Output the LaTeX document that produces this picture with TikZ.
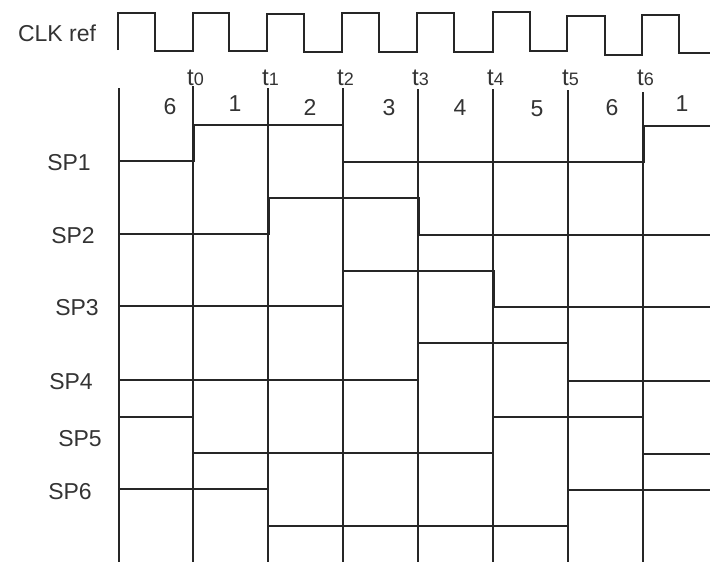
\documentclass[tikz,border=0pt]{standalone}
\usepackage{fontspec}
\setmainfont{Liberation Sans}
\begin{document}
\begin{tikzpicture}[x=1pt,y=-1pt,
  wave/.style={draw=black!85, line width=1.1pt, line join=miter},
  gridline/.style={draw=black!85, line width=1.1pt},
  lbl/.style={text=black!80, font=\fontsize{23}{23}\selectfont, inner sep=0pt},
  tlbl/.style={text=black!80, font=\fontsize{24}{24}\selectfont, inner sep=0pt, anchor=base west},
  num/.style={text=black!80, font=\fontsize{23}{23}\selectfont, inner sep=0pt}]
\useasboundingbox (0,0) rectangle (710,563);

% signal labels
\node[lbl] (clk) at (57,33) {CLK ref};
\node[lbl] (sp1) at (69,163) {SP1};
\node[lbl] (sp2) at (73,236) {SP2};
\node[lbl] (sp3) at (77,308) {SP3};
\node[lbl] (sp4) at (71,382) {SP4};
\node[lbl] (sp5) at (80,439) {SP5};
\node[lbl] (sp6) at (70,492) {SP6};

% vertical time lines
\draw[gridline] (119,88) -- (119,562);
\foreach \k/\top in {0/86,1/88,2/88,3/89,4/89,5/90,6/92}{
  \draw[gridline] ({193+75*\k},\top) -- ({193+75*\k},562);
  \node[tlbl] (t\k) at ({187+75*\k},85) {t{\fontsize{18}{18}\selectfont\k}};
}

% interval numbers
\node[num] (n0) at (170,107) {6};
\node[num] (n1) at (235,104) {1};
\node[num] (n2) at (310,107) {2};
\node[num] (n3) at (389,108) {3};
\node[num] (n4) at (460,108) {4};
\node[num] (n5) at (537,109) {5};
\node[num] (n6) at (612,108) {6};
\node[num] (n7) at (682,104) {1};

% CLK ref
\coordinate (clkstart) at (118,50);
\draw[wave] (clkstart) -- (118,13) -- (155,13) -- (155,51) -- (193,51)
  -- (193,13) -- (229,13) -- (229,51) -- (267,51)
  -- (267,14) -- (304,14) -- (304,52) -- (342,52)
  -- (342,13) -- (379,13) -- (379,52) -- (417,52)
  -- (417,13) -- (454,13) -- (454,52) -- (493,52)
  -- (493,12) -- (530,12) -- (530,51) -- (567,51)
  -- (567,16) -- (605,16) -- (605,55) -- (642,55)
  -- (642,15) -- (679,15) -- (679,53) -- (710,53);

% SP1
\coordinate (s1) at (119,161);
\draw[wave] (s1) -- (194,161) -- (194,125) -- (343,125) -- (343,162) -- (644,162) -- (644,126) -- (710,126);
% SP2
\coordinate (s2) at (119,234);
\draw[wave] (s2) -- (269,234) -- (269,198) -- (419,198) -- (419,235) -- (710,235);
% SP3
\coordinate (s3) at (119,306);
\draw[wave] (s3) -- (343,306) -- (343,271) -- (494,271) -- (494,307) -- (710,307);
% SP4
\coordinate (s4) at (119,380);
\draw[wave] (s4) -- (418,380) -- (418,343) -- (568,343) -- (568,381) -- (710,381);
% SP5
\coordinate (s5) at (119,417);
\draw[wave] (s5) -- (193,417) -- (193,453) -- (493,453) -- (493,417) -- (643,417) -- (643,454) -- (710,454);
% SP6
\coordinate (s6) at (119,489);
\draw[wave] (s6) -- (268,489) -- (268,526) -- (568,526) -- (568,490) -- (710,490);
\end{tikzpicture}
\end{document}
